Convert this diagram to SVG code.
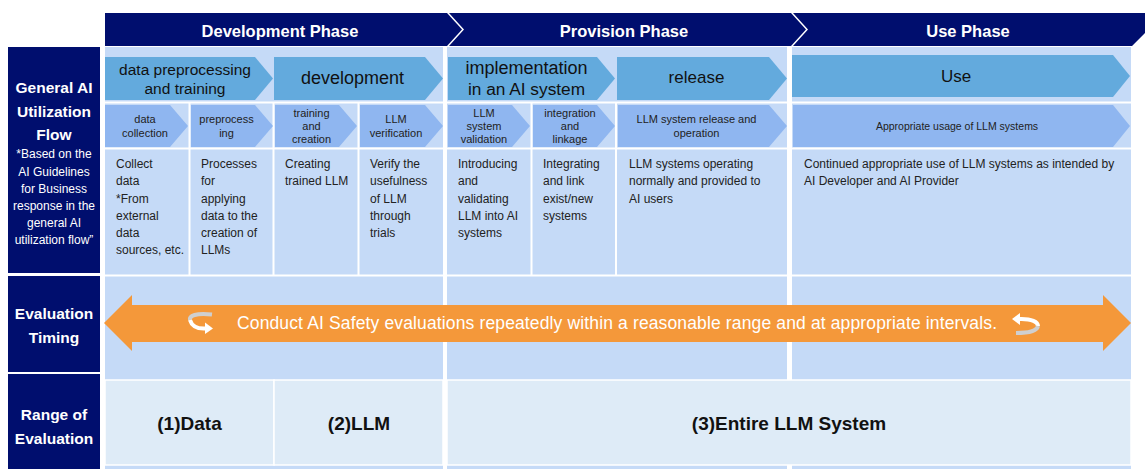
<svg xmlns="http://www.w3.org/2000/svg" width="1145" height="469" viewBox="0 0 1145 469">
<style>
text{font-family:"Liberation Sans",Arial,sans-serif}
.hdr{fill:#000e6e}
.hdrt{fill:#fff;font-weight:bold;font-size:16.5px;text-anchor:middle}
.side{fill:#000e6e}
.sidet{fill:#fff;font-weight:bold;font-size:15.5px;text-anchor:middle}
.sides{fill:#fff;font-size:12px;text-anchor:middle}
.panel{fill:#c5daf7}
.sep{stroke:#fff;stroke-width:2;fill:none}
.a1{fill:#63aadd}
.a2{fill:#8fb6f0}
.t1{fill:#111;font-size:18px;text-anchor:middle}
.t2{fill:#222;font-size:11px;text-anchor:middle}
.cell{fill:#222;font-size:12px}
.r3{fill:#deebf7;stroke:#fff;stroke-width:1.5}
.r3t{fill:#111;font-size:19px;font-weight:bold;text-anchor:middle}
.orng{fill:#f4983a}
.ot{fill:#fff;font-size:17.5px}
</style>

<g id="phase-headers">
  <g id="dev-phase"><polygon class="hdr" points="105,13 447,13 462,29.5 447,46 105,46"/><text class="hdrt" x="280" y="37">Development Phase</text></g>
  <g id="prov-phase"><polygon class="hdr" points="449,13 791,13 806,29.5 791,46 449,46 464,29.5"/><text class="hdrt" x="624" y="37">Provision Phase</text></g>
  <g id="use-phase"><polygon class="hdr" points="793,13 1145,13 1145,33 1132,46 793,46 808,29.5"/><text class="hdrt" x="968" y="37">Use Phase</text></g>
</g>

<g id="row-headers">
  <g id="hdr-flow"><rect class="side" x="8" y="47" width="92" height="226"/>
    <text class="sidet" x="54" y="93">General AI</text>
    <text class="sidet" x="54" y="117">Utilization</text>
    <text class="sidet" x="54" y="140">Flow</text>
    <text class="sides" x="54" y="158">*Based on the</text>
    <text class="sides" x="54" y="176">AI Guidelines</text>
    <text class="sides" x="54" y="193">for Business</text>
    <text class="sides" x="54" y="210">response in the</text>
    <text class="sides" x="54" y="227">general AI</text>
    <text class="sides" x="54" y="244">utilization flow”</text>
  </g>
  <g id="hdr-timing"><rect class="side" x="8" y="276" width="92" height="96"/>
    <text class="sidet" x="54" y="319">Evaluation</text>
    <text class="sidet" x="54" y="343">Timing</text>
  </g>
  <g id="hdr-range"><rect class="side" x="8" y="374" width="92" height="95"/>
    <text class="sidet" x="54" y="420">Range of</text>
    <text class="sidet" x="54" y="444">Evaluation</text>
  </g>
</g>

<g id="panels">
  <rect class="panel" x="105" y="47" width="338" height="422"/>
  <rect class="panel" x="447" y="47" width="340" height="422"/>
  <rect class="panel" x="792" y="47" width="339" height="422"/>
  <path class="sep" d="M105 102.5H443M447 102.5H787M792 102.5H1131M105 148.5H443M447 148.5H787M792 148.5H1131M105 275.5H443M447 275.5H787M792 275.5H1131M189.5 103V275M273.5 103V275M358.5 103V275M531.5 103V275M616 103V275"/>
</g>

<g id="stage-arrows">
  <g id="s-data-prep"><polygon class="a1" points="105,57 255,57 273,78.5 255,100 105,100"/>
    <text class="t1" x="185" y="75" style="font-size:15.5px">data preprocessing</text>
    <text class="t1" x="185" y="94" style="font-size:15.5px">and training</text></g>
  <g id="s-development"><polygon class="a1" points="274,57 425,57 443,78.5 425,100 274,100"/>
    <text class="t1" x="352.5" y="84">development</text></g>
  <g id="s-implementation"><polygon class="a1" points="448,57 597,57 615,78.5 597,100 448,100"/>
    <text class="t1" x="526.5" y="74">implementation</text>
    <text class="t1" x="526.5" y="95" style="font-size:17.3px">in an AI system</text></g>
  <g id="s-release"><polygon class="a1" points="617,57 769,57 787,78.5 769,100 617,100"/>
    <text class="t1" x="696.5" y="83" style="font-size:17px">release</text></g>
  <g id="s-use"><polygon class="a1" points="792,55 1113,55 1130,76 1113,97 792,97"/>
    <text class="t1" x="956" y="82" style="font-size:17px">Use</text></g>
</g>

<g id="step-arrows">
  <g id="p-collection"><polygon class="a2" points="105,105 170,105 188,126 170,147 105,147"/>
    <text class="t2" x="145" y="123">data</text><text class="t2" x="145" y="136.5">collection</text></g>
  <g id="p-preprocessing"><polygon class="a2" points="191,105 255,105 273,126 255,147 191,147"/>
    <text class="t2" x="226.5" y="123">preprocess</text><text class="t2" x="226.5" y="136.5">ing</text></g>
  <g id="p-training"><polygon class="a2" points="275,105 339,105 357,126 339,147 275,147"/>
    <text class="t2" x="311.5" y="117">training</text><text class="t2" x="311.5" y="130">and</text><text class="t2" x="311.5" y="143">creation</text></g>
  <g id="p-verification"><polygon class="a2" points="360,105 425,105 443,126 425,147 360,147"/>
    <text class="t2" x="396" y="123">LLM</text><text class="t2" x="396" y="136.5">verification</text></g>
  <g id="p-validation"><polygon class="a2" points="448,105 512,105 530,126 512,147 448,147"/>
    <text class="t2" x="484" y="117">LLM</text><text class="t2" x="484" y="130">system</text><text class="t2" x="484" y="143">validation</text></g>
  <g id="p-integration"><polygon class="a2" points="533,105 597,105 615,126 597,147 533,147"/>
    <text class="t2" x="570" y="117">integration</text><text class="t2" x="570" y="130">and</text><text class="t2" x="570" y="143">linkage</text></g>
  <g id="p-operation"><polygon class="a2" points="618,105 769,105 787,126 769,147 618,147"/>
    <text class="t2" x="696.5" y="123">LLM system release and</text><text class="t2" x="696.5" y="136.5">operation</text></g>
  <g id="p-usage"><polygon class="a2" points="793,105 1113,105 1130,126 1113,147 793,147"/>
    <text class="t2" x="957" y="130" style="font-size:10.5px">Appropriate usage of LLM systems</text></g>
</g>

<g id="descriptions">
  <g id="d-collection"><text class="cell" x="116" y="168">Collect</text><text class="cell" x="116" y="185">data</text><text class="cell" x="116" y="202.5">*From</text><text class="cell" x="116" y="220">external</text><text class="cell" x="116" y="237">data</text><text class="cell" x="116" y="254">sources, etc.</text></g>
  <g id="d-preprocessing"><text class="cell" x="201" y="168">Processes</text><text class="cell" x="201" y="185">for</text><text class="cell" x="201" y="202.5">applying</text><text class="cell" x="201" y="220">data to the</text><text class="cell" x="201" y="237">creation of</text><text class="cell" x="201" y="254">LLMs</text></g>
  <g id="d-training"><text class="cell" x="285" y="168">Creating</text><text class="cell" x="285" y="185">trained LLM</text></g>
  <g id="d-verification"><text class="cell" x="370" y="168">Verify the</text><text class="cell" x="370" y="185">usefulness</text><text class="cell" x="370" y="202.5">of LLM</text><text class="cell" x="370" y="220">through</text><text class="cell" x="370" y="237">trials</text></g>
  <g id="d-validation"><text class="cell" x="458" y="168">Introducing</text><text class="cell" x="458" y="185">and</text><text class="cell" x="458" y="202.5">validating</text><text class="cell" x="458" y="220">LLM into AI</text><text class="cell" x="458" y="237">systems</text></g>
  <g id="d-integration"><text class="cell" x="543" y="168">Integrating</text><text class="cell" x="543" y="185">and link</text><text class="cell" x="543" y="202.5">exist/new</text><text class="cell" x="543" y="220">systems</text></g>
  <g id="d-operation"><text class="cell" x="629" y="168">LLM systems operating</text><text class="cell" x="629" y="185">normally and provided to</text><text class="cell" x="629" y="202.5">AI users</text></g>
  <g id="d-usage"><text class="cell" x="804" y="168">Continued appropriate use of LLM systems as intended by</text><text class="cell" x="804" y="185">AI Developer and AI Provider</text></g>
</g>

<g id="connectors">
  <g id="timing-arrow">
    <polygon class="orng" points="104,323 132,295 132,305 1103,305 1103,295 1131,323 1103,351 1103,342 132,342 132,351"/>
    <path d="M212 314.5C196 312.5 189 316 190 320" fill="none" stroke="#cfcfcf" stroke-width="4"/>
    <path d="M190 320C192 327 198 329 206 328.5" fill="none" stroke="#fff" stroke-width="4"/>
    <polygon points="205,322.5 213,328.5 205,334" fill="#fff"/>
    <path d="M1019 319C1032 318.5 1038 322 1038 326" fill="none" stroke="#fff" stroke-width="4"/>
    <path d="M1038 326C1037 331 1030 333 1016 333" fill="none" stroke="#cfcfcf" stroke-width="4"/>
    <polygon points="1020,313 1012,319 1020,325" fill="#fff"/>
    <text class="ot" x="237" y="329" textLength="760" lengthAdjust="spacing">Conduct AI Safety evaluations repeatedly within a reasonable range and at appropriate intervals.</text>
  </g>
</g>

<g id="ranges">
  <g id="r-data"><rect class="r3" x="105" y="380" width="169" height="85"/><text class="r3t" x="189.5" y="430">(1)Data</text></g>
  <g id="r-llm"><rect class="r3" x="274" y="380" width="169" height="85"/><text class="r3t" x="359" y="430">(2)LLM</text></g>
  <g id="r-system"><rect class="r3" x="447" y="380" width="684" height="85"/><text class="r3t" x="789" y="430">(3)Entire LLM System</text></g>
</g>
</svg>
